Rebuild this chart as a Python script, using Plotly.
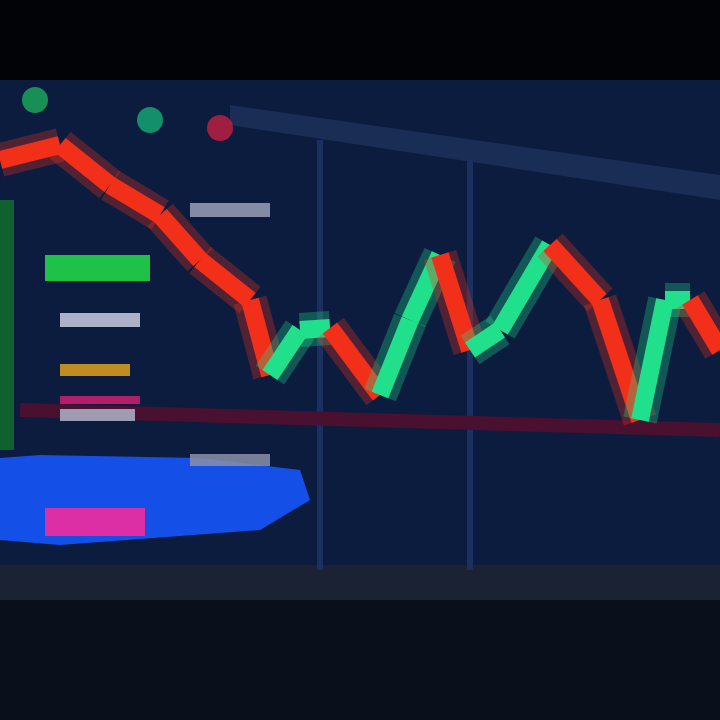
import plotly.graph_objects as go

# ---- data (screen pixel-like units, y up) ----
times = [0, 60, 110, 160, 200, 250, 270, 300, 330, 380, 410, 440, 470, 500, 550, 600, 640, 665, 690, 720]
price = [560, 575, 535, 505, 460, 420, 345, 390, 392, 325, 400, 465, 370, 390, 475, 420, 300, 420, 420, 370]
direction = ["down", "down", "down", "down", "down", "down", "up", "up", "down", "up", "up", "down", "up", "up", "down", "down", "up", "up", "down"]

# left-panel indicator blocks: start, end, level, colour
blk_start = [45, 60, 60, 60, 190, 190, 45, 60]
blk_end = [150, 140, 130, 135, 270, 270, 145, 140]
blk_level = [452, 400, 350, 305, 510, 260, 198, 320]
blk_color = ["#22e04a", "#c8cde0", "#e0a020", "#b0b4c8", "#9aa0b8", "#8a90a8", "#ff2a9a", "#d02070"]
blk_width = [26, 14, 12, 12, 14, 12, 28, 8]

dots_x = [35, 150, 220]
dots_y = [620, 600, 592]
dots_c = ["#1cc060", "#18c080", "#e02040"]

fig = go.Figure()

# blue band
fig.add_trace(go.Scatter(x=[0, 40, 200, 300, 310, 260, 60, 0], y=[262, 265, 262, 250, 220, 190, 175, 180],
                         fill="toself", fillcolor="#1450e8", line=dict(width=0), mode="lines",
                         hoverinfo="skip", showlegend=False))

for s, e, lv, c, w in zip(blk_start, blk_end, blk_level, blk_color, blk_width):
    fig.add_trace(go.Scatter(x=[s, e], y=[lv, lv], mode="lines", line=dict(color=c, width=w),
                             opacity=0.85, showlegend=False, hoverinfo="skip"))

# price line, coloured by direction
for i in range(len(times) - 1):
    col = "#20e08c" if direction[i] == "up" else "#f2301a"
    fig.add_trace(go.Scatter(x=[times[i], times[i + 1]], y=[price[i], price[i + 1]], mode="lines",
                             line=dict(color=col, width=34), opacity=0.3, showlegend=False, hoverinfo="skip"))
    fig.add_trace(go.Scatter(x=[times[i], times[i + 1]], y=[price[i], price[i + 1]], mode="lines",
                             line=dict(color=col, width=18), showlegend=False, hoverinfo="skip"))

fig.add_trace(go.Scatter(x=dots_x, y=dots_y, mode="markers",
                         marker=dict(color=dots_c, size=26, opacity=0.7), showlegend=False, hoverinfo="skip"))

shapes = [
    dict(type="rect", xref="x", yref="y", x0=0, x1=720, y0=150, y1=640, fillcolor="#0b1c3e", line=dict(width=0), layer="below"),
    dict(type="path", xref="x", yref="y", path="M 230 615 L 720 545 L 720 520 L 230 595 Z", fillcolor="#1a2d55", line=dict(width=0), layer="below"),
    dict(type="rect", xref="x", yref="y", x0=0, x1=720, y0=120, y1=155, fillcolor="#1a2233", line=dict(width=0), layer="below"),
    dict(type="rect", xref="x", yref="y", x0=0, x1=720, y0=0, y1=120, fillcolor="#0a0f1c", line=dict(width=0), layer="below"),
    dict(type="line", xref="x", yref="y", x0=320, x1=320, y0=150, y1=580, line=dict(color="#1b3060", width=6), layer="below"),
    dict(type="line", xref="x", yref="y", x0=470, x1=470, y0=150, y1=560, line=dict(color="#1b3060", width=6), layer="below"),
    dict(type="line", xref="x", yref="y", x0=20, x1=720, y0=310, y1=290, line=dict(color="#4a1030", width=14), layer="below"),
    dict(type="rect", xref="x", yref="y", x0=0, x1=14, y0=270, y1=520, fillcolor="#106030", line=dict(width=0), layer="below"),
]

fig.update_layout(
    width=720, height=720, margin=dict(l=0, r=0, t=0, b=0),
    paper_bgcolor="#020306", plot_bgcolor="#020306",
    xaxis=dict(range=[0, 720], visible=False, fixedrange=True),
    yaxis=dict(range=[0, 720], visible=False, fixedrange=True),
    shapes=shapes, showlegend=False,
)

fig.write_html("out.html", config={"displayModeBar": False},
               post_script="document.body.style.margin='0';document.body.style.background='#020306';")
